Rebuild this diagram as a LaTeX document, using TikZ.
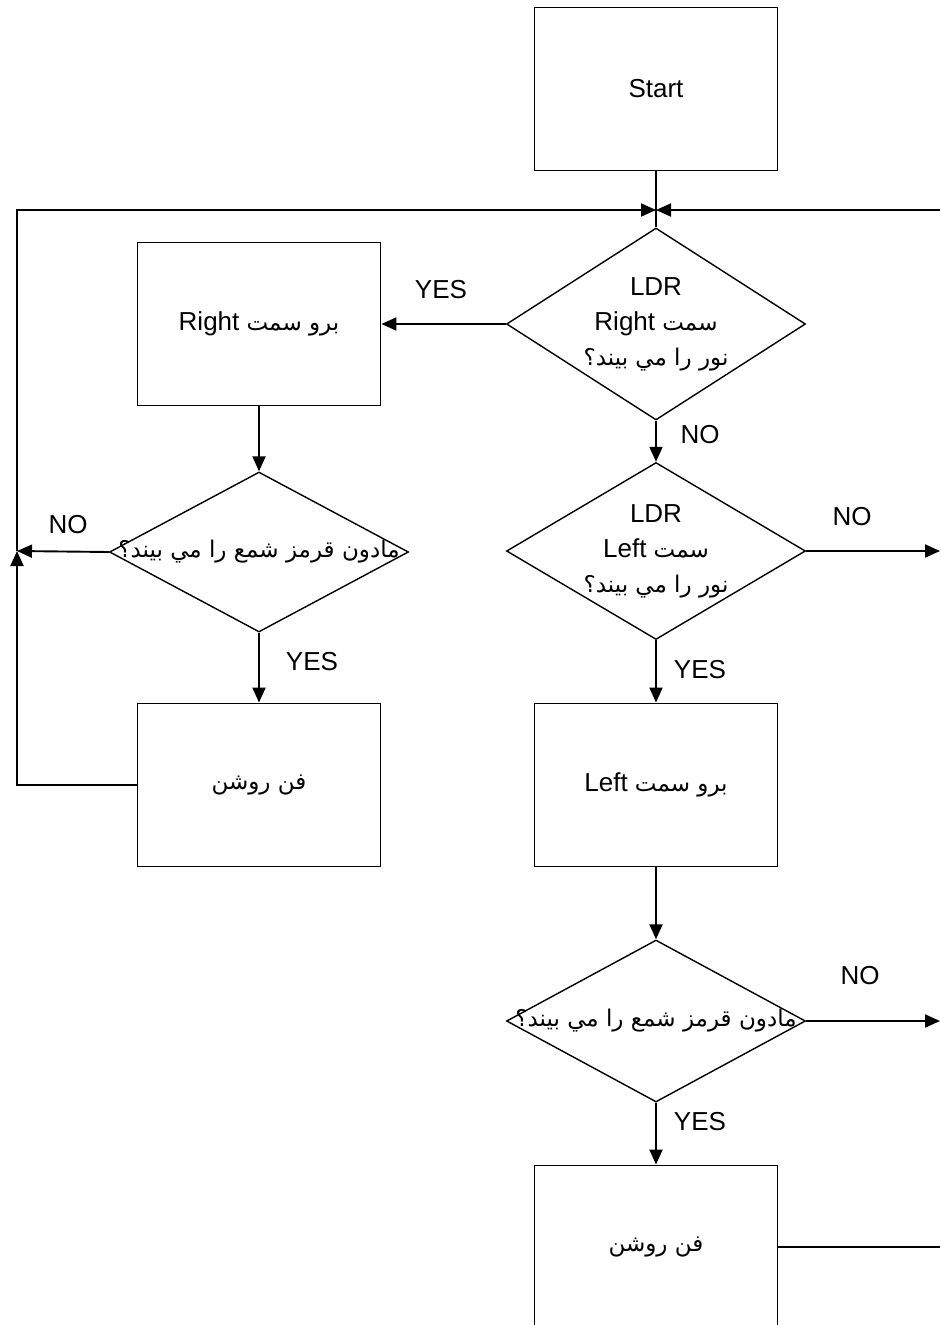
\documentclass[tikz,border=0pt]{standalone}
\usepackage{fontspec}
\setmainfont{Liberation Sans}
\newfontfamily\arabicfont[Script=Arabic]{DejaVu Sans}
\TeXXeTstate=1
\usetikzlibrary{arrows.meta,shapes.geometric}
\newcommand{\ar}{\arabicfont\fontsize{23}{34}\selectfont}
\begin{document}
\begin{tikzpicture}[x=1pt,y=-1pt,line width=1.9pt,
  box/.style={draw,rectangle,minimum width=243pt,minimum height=163pt,inner sep=0pt},
  dia/.style={draw,diamond,line width=1.4pt,inner sep=0pt,minimum width=299pt,minimum height=192pt},
  txt/.style={font=\fontsize{26}{35}\selectfont,align=center,inner sep=0pt},
  lbl/.style={font=\fontsize{26}{30}\selectfont,inner sep=0pt},
  arr/.style={-{Triangle[length=15pt,width=13pt]}}]
\useasboundingbox (0,0) rectangle (940,1325);
% nodes
\node[box] (start) at (656,89) {};
\node[txt] at (start) {Start};
\node[dia] (d1) at (656,324) {};
\node[txt] at (d1) {LDR\\ \beginR{\ar سمت} \beginL Right\endL\endR\\ \beginR{\ar نور را مي بيند؟}\endR};
\node[box] (bR) at (259,324) {};
\node[txt] at (bR) {\beginR{\ar برو سمت} \beginL Right\endL\endR};
\node[dia,minimum height=160pt] (d2) at (259,552) {};
\node[txt] at (d2) {\beginR{\ar مادون قرمز شمع را مي بيند؟}\endR};
\node[box] (fL) at (259,785) {};
\node[txt] at (fL) {\beginR{\ar فن روشن}\endR};
\node[dia,minimum height=177pt] (d3) at (656,551) {};
\node[txt] at (d3) {LDR\\ \beginR{\ar سمت} \beginL Left\endL\endR\\ \beginR{\ar نور را مي بيند؟}\endR};
\node[box] (bL) at (656,785) {};
\node[txt] at (bL) {\beginR{\ar برو سمت} \beginL Left\endL\endR};
\node[dia,minimum height=162pt] (d4) at (656,1021) {};
\node[txt] at (d4) {\beginR{\ar مادون قرمز شمع را مي بيند؟}\endR};
\node[box] (fR) at (656,1247) {};
\node[txt] at (fR) {\beginR{\ar فن روشن}\endR};
% coordinates
\coordinate (J) at (656,210);
\coordinate (LL) at (17,551);
\coordinate (R0) at (940,210);
\coordinate (R1) at (940,551);
\coordinate (R2) at (940,1021);
\coordinate (R3) at (940,1247);
% connectors
\draw (start.south) -- (d1.north);
\draw[arr] (R0) -- (J);
\draw[arr] (LL) |- (J);
\draw[arr] (d1.west) -- (bR.east);
\draw[arr] (bR.south) -- (d2.north);
\draw[arr] (d2.west) -- (LL);
\draw[arr] (fL.west) -| (LL);
\draw[arr] (d2.south) -- (fL.north);
\draw[arr] (d1.south) -- (d3.north);
\draw[arr] (d3.east) -- (R1);
\draw[arr] (d3.south) -- (bL.north);
\draw[arr] (bL.south) -- (d4.north);
\draw[arr] (d4.east) -- (R2);
\draw[arr] (d4.south) -- (fR.north);
\draw (fR.east) -- (R3);
% labels
\node[lbl] (l1) at (441,290) {YES};
\node[lbl] (l2) at (700,435) {NO};
\node[lbl] (l3) at (68,525) {NO};
\node[lbl] (l4) at (852,517) {NO};
\node[lbl] (l5) at (312,662) {YES};
\node[lbl] (l6) at (700,670) {YES};
\node[lbl] (l7) at (860,976) {NO};
\node[lbl] (l8) at (700,1122) {YES};
\end{tikzpicture}
\end{document}
